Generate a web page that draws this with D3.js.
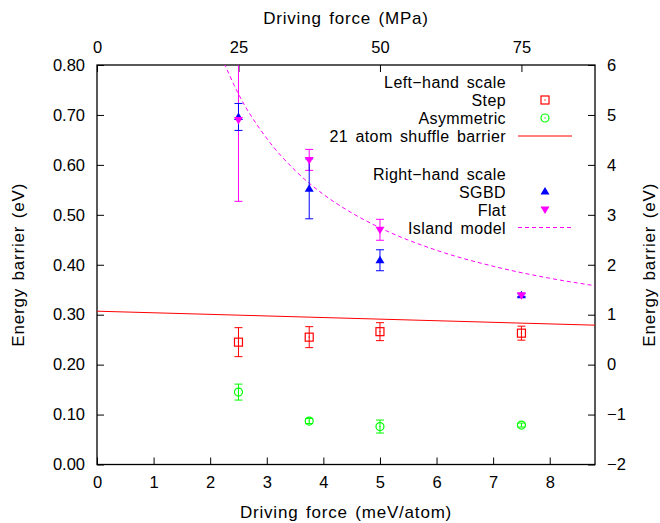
<!DOCTYPE html>
<html><head><meta charset="utf-8">
<script src="https://cdn.jsdelivr.net/npm/d3@7"></script>
<style>body{margin:0;background:#fff} text{font-family:"Liberation Sans",Arial,Helvetica,sans-serif;fill:#000}
.lab{font-size:17px;letter-spacing:0.8px;word-spacing:2px}
.leg{font-size:16px;letter-spacing:0.4px;word-spacing:2.5px}
.tick text{font-size:16.5px}</style>
</head><body><svg id="c" width="660" height="523"></svg>
<script>
// ---- data ----
const drivingForce = [2.5, 3.75, 5.0, 7.5];           // meV/atom
const stepBarrier  = [0.245, 0.255, 0.266, 0.263];    // left scale (eV)
const stepErr      = [0.029, 0.021, 0.018, 0.014];
const asymBarrier  = [0.145, 0.087, 0.076, 0.079];
const asymErr      = [0.016, 0.005, 0.013, 0.004];
const sgbdBarrier  = [4.96, 3.52, 2.09, 1.39];        // right scale (eV)
const sgbdErr      = [0.27, 0.60, 0.21, 0.03];
const flatBarrier  = [4.90, 4.10, 2.70, 1.39];
const flatErr      = [1.63, 0.21, 0.21, 0.03];
const shuffleX = [0, 8.8];
const shuffleY = [0.307, 0.279];
const islandX = [2.2, 2.5, 3, 3.5, 4, 4.5, 5, 6, 7, 8, 8.8];
const islandY = [6.16, 5.42, 4.53, 3.89, 3.41, 3.04, 2.74, 2.29, 1.97, 1.73, 1.58];
const bottomTicks = [0,1,2,3,4,5,6,7,8];
const topTicks = [0,25,50,75];
const leftTicks = [0,0.1,0.2,0.3,0.4,0.5,0.6,0.7,0.8];
const rightTicks = [-2,-1,0,1,2,3,4,5,6];

const L=97, R=595, T=65, B=464.5;
const svg=d3.select("#c");
const x=d3.scaleLinear().domain([0,8.8]).range([L,R]);
const xTop=d3.scaleLinear().domain([0,88]).range([L,R]);
const y=d3.scaleLinear().domain([0,0.8]).range([B,T]);
const y2=d3.scaleLinear().domain([-2,6]).range([B,T]);

svg.append("defs").append("clipPath").attr("id","clip").append("rect")
  .attr("x",L).attr("y",T).attr("width",R-L).attr("height",B-T);

const fmtMinus = s => String(s).replace("-","\u2212");
const ax = (g,axis)=>{g.call(axis); g.select(".domain").remove(); g.selectAll("line").attr("stroke","#000"); g.selectAll("text").attr("font-family",null).attr("font-size",null);};
svg.append("g").attr("transform",`translate(0,${B})`).call(g=>ax(g,d3.axisBottom(x).tickValues(bottomTicks).tickSizeInner(-7).tickSizeOuter(0).tickPadding(12).tickFormat(d3.format("d"))));
svg.append("g").attr("transform",`translate(0,${T})`).call(g=>ax(g,d3.axisTop(xTop).tickValues(topTicks).tickSizeInner(-7).tickSizeOuter(0).tickPadding(12).tickFormat(d3.format("d"))));
svg.append("g").attr("transform",`translate(${L},0)`).call(g=>ax(g,d3.axisLeft(y).tickValues(leftTicks).tickSizeInner(-7).tickSizeOuter(0).tickPadding(12).tickFormat(d3.format(".2f"))));
svg.append("g").attr("transform",`translate(${R},0)`).call(g=>ax(g,d3.axisRight(y2).tickValues(rightTicks).tickSizeInner(-7).tickSizeOuter(0).tickPadding(12).tickFormat(d=>fmtMinus(d))));
svg.append("rect").attr("x",L).attr("y",T).attr("width",R-L).attr("height",B-T).attr("fill","none").attr("stroke","#000").attr("stroke-width",1.3);

// titles
svg.append("text").attr("class","lab").attr("x",(L+R)/2).attr("y",24).attr("text-anchor","middle").text("Driving force (MPa)");
svg.append("text").attr("class","lab").attr("x",(L+R)/2).attr("y",518).attr("text-anchor","middle").text("Driving force (meV/atom)");
svg.append("text").attr("class","lab").attr("transform",`translate(24,${(T+B)/2}) rotate(-90)`).attr("text-anchor","middle").text("Energy barrier (eV)");
svg.append("text").attr("class","lab").attr("transform",`translate(655,${(T+B)/2}) rotate(-90)`).attr("text-anchor","middle").text("Energy barrier (eV)");

const plot=svg.append("g").attr("clip-path","url(#clip)");

plot.append("path").datum(shuffleX.map((v,i)=>[v,shuffleY[i]]))
  .attr("d",d3.line().x(d=>x(d[0])).y(d=>y(d[1]))).attr("fill","none").attr("stroke","#ff0000").attr("stroke-width",1);
plot.append("path").datum(islandX.map((v,i)=>[v,islandY[i]]))
  .attr("d",d3.line().curve(d3.curveMonotoneX).x(d=>x(d[0])).y(d=>y2(d[1]))).attr("fill","none").attr("stroke","#ff00ff").attr("stroke-width",1).attr("stroke-dasharray","4,3");

function errBars(vals,errs,sc,color){
  const g=plot.append("g").attr("stroke",color).attr("stroke-width",1).attr("fill","none");
  drivingForce.forEach((xv,i)=>{
    const cx=x(xv), y0=sc(vals[i]-errs[i]), y1=sc(vals[i]+errs[i]);
    g.append("line").attr("x1",cx).attr("x2",cx).attr("y1",y0).attr("y2",y1);
    g.append("line").attr("x1",cx-4).attr("x2",cx+4).attr("y1",y0).attr("y2",y0);
    g.append("line").attr("x1",cx-4).attr("x2",cx+4).attr("y1",y1).attr("y2",y1);
  });
}
errBars(stepBarrier,stepErr,y,"#ff0000");
errBars(asymBarrier,asymErr,y,"#00ff00");
errBars(flatBarrier,flatErr,y2,"#ff00ff");
errBars(sgbdBarrier,sgbdErr,y2,"#0000ff");

function square(g,cx,cy,c){g.append("rect").attr("x",cx-4).attr("y",cy-4).attr("width",8).attr("height",8).attr("fill","none").attr("stroke",c).attr("stroke-width",1.2);
  g.append("rect").attr("x",cx-0.6).attr("y",cy-0.6).attr("width",1.2).attr("height",1.2).attr("fill",c);}
function circle(g,cx,cy,c){g.append("circle").attr("cx",cx).attr("cy",cy).attr("r",4).attr("fill","none").attr("stroke",c).attr("stroke-width",1.2);
  g.append("rect").attr("x",cx-0.6).attr("y",cy-0.6).attr("width",1.2).attr("height",1.2).attr("fill",c);}
function triUp(g,cx,cy,c){g.append("path").attr("d",`M${cx},${cy-4.5}L${cx+4.5},${cy+3}L${cx-4.5},${cy+3}Z`).attr("fill",c);}
function triDown(g,cx,cy,c){g.append("path").attr("d",`M${cx},${cy+4.5}L${cx+4.5},${cy-3}L${cx-4.5},${cy-3}Z`).attr("fill",c);}

const mk=svg.append("g");
drivingForce.forEach((xv,i)=>{
  square(mk,x(xv),y(stepBarrier[i]),"#ff0000");
  circle(mk,x(xv),y(asymBarrier[i]),"#00ff00");
  triUp(mk,x(xv),y2(sgbdBarrier[i]),"#0000ff");
  triDown(mk,x(xv),y2(flatBarrier[i]),"#ff00ff");
});

// legend
const lg=svg.append("g");
const tx=506, sx=545, lx1=518, lx2=572;
const items=[
  {t:"Left\u2212hand scale",b:88},
  {t:"Step",b:106,s:"sq"},
  {t:"Asymmetric",b:124,s:"ci"},
  {t:"21 atom shuffle barrier",b:142,s:"line"},
  {t:"Right\u2212hand scale",b:179.5},
  {t:"SGBD",b:197.5,s:"up"},
  {t:"Flat",b:215.5,s:"dn"},
  {t:"Island model",b:233.5,s:"dash"}
];
items.forEach(it=>{
  lg.append("text").attr("class","leg").attr("x",tx).attr("y",it.b).attr("text-anchor","end").text(it.t);
  const cy=it.b-6;
  if(it.s==="sq") square(lg,sx,cy,"#ff0000");
  if(it.s==="ci") circle(lg,sx,cy,"#00ff00");
  if(it.s==="up") triUp(lg,sx,cy,"#0000ff");
  if(it.s==="dn") triDown(lg,sx,cy,"#ff00ff");
  if(it.s==="line") lg.append("line").attr("x1",lx1).attr("x2",lx2).attr("y1",cy).attr("y2",cy).attr("stroke","#ff0000");
  if(it.s==="dash") lg.append("line").attr("x1",lx1).attr("x2",lx2).attr("y1",cy).attr("y2",cy).attr("stroke","#ff00ff").attr("stroke-dasharray","4,3");
});
</script></body></html>
